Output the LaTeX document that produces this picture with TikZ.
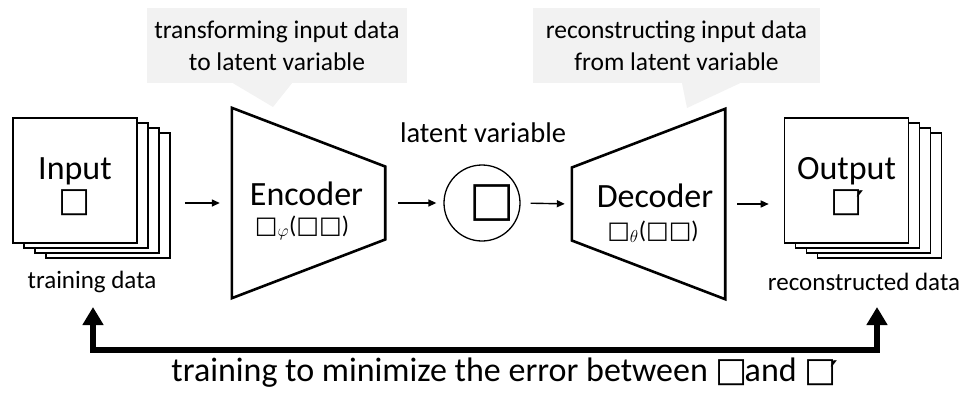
\documentclass[tikz,border=0pt]{standalone}
\usepackage{fontspec}
\setmainfont{Carlito}
\newfontfamily\symfont{DejaVu Sans}
\usetikzlibrary{arrows.meta,positioning,calc}
\definecolor{notegray}{RGB}{242,242,242}
% missing-glyph boxes as printed in the figure
\newcommand{\bx}{{\symfont □}}
\newcommand{\bxhat}{{\symfont □\llap{\raisebox{-.12em}{′}\kern-.04em}}}

\begin{document}
\begin{tikzpicture}[x=1pt,y=-1pt,
    page/.style={rectangle,draw,line width=1.6pt,fill=white,minimum width=124pt,
      minimum height=125pt,inner sep=0pt,align=center},
    net/.style={line width=2.6pt,line join=miter},
    box/.style={rectangle,inner sep=0pt,minimum width=153pt,minimum height=190pt},
    note/.style={fill=notegray,minimum height=75pt,inner sep=0pt,align=center,
      font=\fontsize{25.5}{32}\selectfont},
    big/.style={font=\fontsize{34}{36}\selectfont},
    small/.style={font=\fontsize{25}{30}\selectfont},
    fn/.style={font=\fontsize{24}{26}\selectfont},
    arr/.style={-{Triangle[length=8pt,width=7pt]},line width=1.4pt},
    feedback/.style={{Triangle[length=18pt,width=20pt]}-{Triangle[length=18pt,width=20pt]},
      line width=6pt,line join=miter}
  ]
  \useasboundingbox (0,0) rectangle (969,394);

  % notes
  \node[note,minimum width=260pt] (noteenc) at (277,45.5) {transforming input data\\to latent variable};
  \fill[notegray] ($(noteenc.south)+(-44,0)$) -- (273,107) -- ($(noteenc.south)+(15,0)$) -- cycle;
  \node[note,minimum width=287pt] (notedec) at (676.5,45.5) {reconstructing input data\\from latent variable};
  \fill[notegray] ($(notedec.south)+(5.5,0)$) -- (687,108) -- ($(notedec.south)+(63.5,0)$) -- cycle;

  % input stack
  \foreach \i in {3,2,1}
    \node[page] (in\i) at (75+11*\i,180.5+5*\i) {};
  \node[page,big] (in) at (75,180.5) {\rule{0pt}{35pt}Input\\[-4pt]\bx};
  \node[small] (trainlbl) at (92,282) {training data};

  % encoder
  \node[box] (enc) at (308.5,203) {};
  \draw[net] (enc.north west) -- ($(enc.east)+(0,-36.5)$) -- ($(enc.east)+(0,36.5)$)
    -- (enc.south west) -- cycle;
  \node[big] (encname) at (306.5,194) {Encoder};
  \node[fn] (encfn) at (302,228) {\bx$_\varphi$(\bx\bx)};

  % latent variable
  \node[circle,draw,line width=1.3pt,minimum size=76pt] (lat) at (482,203) {};
  \node[font=\fontsize{48}{48}\selectfont] (latsym) at (492,203) {\bx};
  \node[font=\fontsize{28.5}{30}\selectfont] (latlbl) at (483,133) {latent variable};

  % decoder
  \node[box] (dec) at (648.5,204) {};
  \draw[net] (dec.north east) -- (dec.south east) -- ($(dec.west)+(0,36.5)$)
    -- ($(dec.west)+(0,-36.5)$) -- cycle;
  \node[big] (decname) at (655,196) {Decoder};
  \node[fn] (decfn) at (653,232) {\bx$_\theta$(\bx\bx)};

  % output stack
  \foreach \i in {3,2,1}
    \node[page] (out\i) at (846.5+11*\i,180.5+5*\i) {};
  \node[page,big] (out) at (846.5,180.5) {\rule{0pt}{35pt}Output\\[-4pt]\bxhat};
  \node[small] (reclbl) at (864,282) {reconstructed data};

  \draw[arr,shorten <=14pt,shorten >=12pt] (in3.east |- enc.west) -- (enc.west);
  \draw[arr,shorten <=13pt,shorten >=7pt] (enc.east) -- (lat.west);
  \draw[arr,shorten <=10pt,shorten >=7pt] (lat.east) -- (dec.west);
  \draw[arr,shorten <=12pt,shorten >=15pt] (dec.east) -- (dec.east -| out.west);

  % training loop
  \coordinate (tipL) at (93,307);
  \coordinate (tipR) at (877,307);
  \draw[feedback] (tipL) |- ($(tipR)+(0,43)$) -- (tipR);
  \node[big] (err) at (504,373) {training to minimize the error between \bx\kern-3pt and \bxhat};
\end{tikzpicture}
\end{document}
